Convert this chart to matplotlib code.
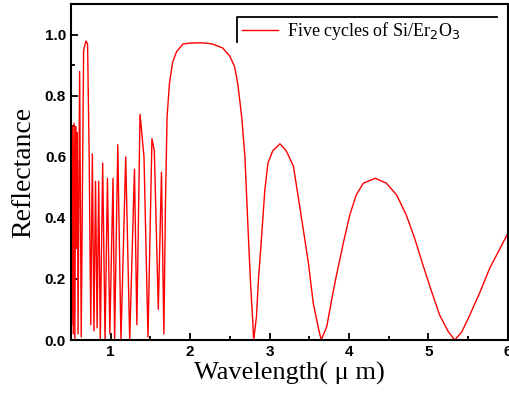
import matplotlib
matplotlib.use("Agg")
import matplotlib.pyplot as plt
from matplotlib.lines import Line2D
from matplotlib.ticker import MultipleLocator

# reflectance spectrum (wavelength in um)
wl_short = [0.50, 0.51, 0.52, 0.53, 0.54, 0.55, 0.56, 0.57, 0.58, 0.59,
            0.61, 0.63, 0.66, 0.69, 0.71, 0.73, 0.75, 0.77, 0.79, 0.81,
            0.83, 0.85, 0.87, 0.90, 0.93, 0.96, 0.99, 1.03, 1.05, 1.09,
            1.13, 1.19, 1.24, 1.30, 1.33, 1.37, 1.42, 1.47, 1.52, 1.55,
            1.60, 1.64, 1.67]
r_short = [0.64, 0.05, 0.70, 0.02, 0.71, 0.00, 0.70, 0.30, 0.68, 0.02,
           0.88, 0.01, 0.95, 0.98, 0.97, 0.60, 0.05, 0.61, 0.03, 0.52,
           0.04, 0.52, 0.00, 0.58, 0.00, 0.53, 0.02, 0.53, 0.00, 0.64,
           0.00, 0.60, 0.00, 0.56, 0.05, 0.74, 0.60, 0.01, 0.66, 0.62,
           0.10, 0.55, 0.02]

wl_long = [1.69, 1.71, 1.74, 1.78, 1.83, 1.91, 2.00, 2.10, 2.20, 2.28,
           2.41, 2.50, 2.56, 2.60, 2.65, 2.69, 2.73, 2.76, 2.79, 2.80,
           2.835, 2.86, 2.90, 2.94, 2.98, 3.04, 3.13, 3.21, 3.30, 3.36,
           3.42, 3.49, 3.55, 3.62, 3.65, 3.72, 3.78, 3.84, 3.93, 4.01,
           4.09, 4.18, 4.33, 4.47, 4.60, 4.72, 4.83, 4.93, 5.04, 5.14,
           5.25, 5.33, 5.42, 5.52, 5.65, 5.77, 5.90, 6.00]
r_long = [0.45, 0.73, 0.84, 0.91, 0.945, 0.97, 0.973, 0.974, 0.973, 0.97,
          0.957, 0.93, 0.896, 0.84, 0.73, 0.60, 0.36, 0.19, 0.055, 0.00,
          0.076, 0.197, 0.34, 0.49, 0.58, 0.62, 0.643, 0.62, 0.57, 0.47,
          0.37, 0.25, 0.12, 0.033, 0.00, 0.044, 0.13, 0.21, 0.32, 0.41,
          0.475, 0.514, 0.53, 0.514, 0.475, 0.41, 0.33, 0.246, 0.158, 0.082,
          0.027, 0.00, 0.027, 0.082, 0.158, 0.235, 0.30, 0.35]

wavelength = wl_short + wl_long
reflectance = r_short + r_long

fig = plt.figure(figsize=(5.1, 3.94), dpi=100)
ax = fig.add_axes([0.139, 0.137, 0.857, 0.852])

ax.plot(wavelength, reflectance, color="red", linewidth=1.0,
        label="Five cycles of Si/Er$_2$O$_3$")

ax.set_xlim(0.5, 6)
ax.set_ylim(0, 1.1)
ax.xaxis.set_minor_locator(MultipleLocator(0.5))
ax.yaxis.set_minor_locator(MultipleLocator(0.1))
ax.tick_params(which="both", direction="in", width=1.3)
ax.tick_params(which="major", length=5, labelsize=11)
ax.tick_params(which="minor", length=3)
ax.set_xticks([1, 2, 3, 4, 5, 6])
ax.set_xticklabels(["1", "2", "3", "4", "5", "6"],
                   fontfamily="Liberation Sans", fontweight="bold")
ax.set_yticks([0.0, 0.2, 0.4, 0.6, 0.8, 1.0])
ax.set_yticklabels(["0.0", "0.2", "0.4", "0.6", "0.8", "1.0"],
                   fontfamily="Liberation Sans", fontweight="bold")
for sp in ax.spines.values():
    sp.set_linewidth(1.5)

ax.set_xlabel("Wavelength( μ m)", fontfamily="Liberation Serif",
              fontsize=19, labelpad=2)
ax.set_ylabel("Reflectance", fontfamily="Liberation Serif",
              fontsize=20, labelpad=6)

# legend with only top and left edges of its box showing
leg = ax.legend(loc="upper left", bbox_to_anchor=(0.375, 0.975),
                frameon=False, handlelength=2.0, handletextpad=0.5,
                borderaxespad=0,
                prop={"family": "Liberation Serif", "size": 13})
ax.add_line(Line2D([0.38, 0.38, 0.975], [0.888, 0.963, 0.963],
                   transform=ax.transAxes, color="black", linewidth=1.3))

fig.savefig("out.png", dpi=100)
